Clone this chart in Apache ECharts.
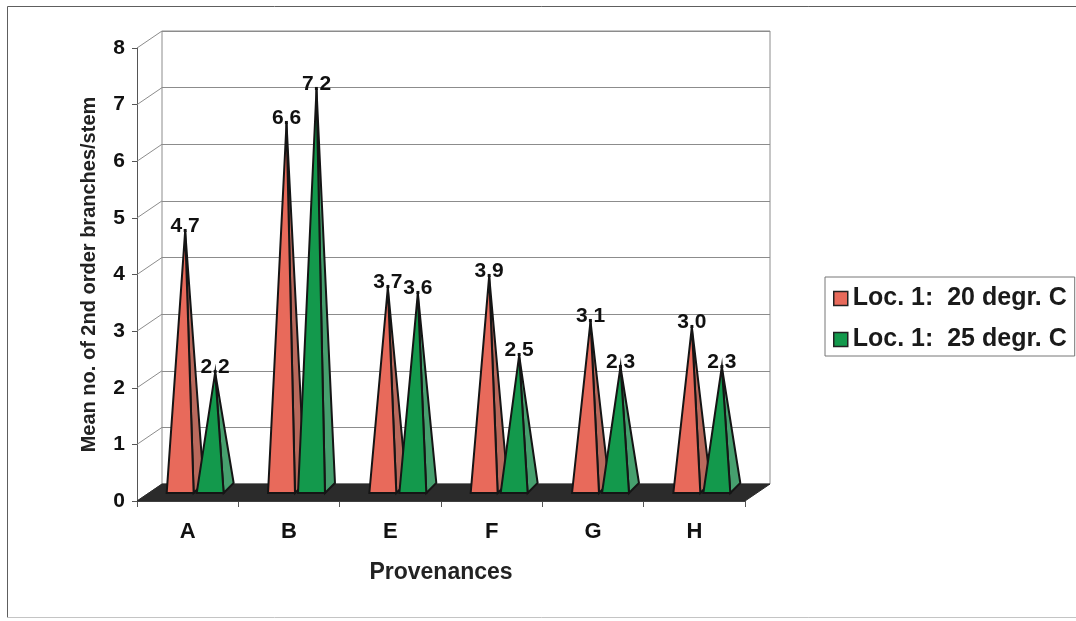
<!DOCTYPE html>
<html>
<head>
<meta charset="utf-8">
<title>Mean no. of 2nd order branches/stem by provenance</title>
<script src="https://cdn.jsdelivr.net/npm/echarts@6/dist/echarts.min.js"></script>
<style>
  html, body { margin: 0; padding: 0; background: #ffffff; }
  #chart { width: 1076px; height: 621px; }
</style>
</head>
<body>
<div id="chart"></div>
<script>
// Provenances on the category axis
const categories = ['A', 'B', 'E', 'F', 'G', 'H'];
// Mean number of 2nd order branches per stem
const loc20 = [4.7, 6.6, 3.7, 3.9, 3.1, 3.0];
const loc25 = [2.2, 7.2, 3.6, 2.5, 2.3, 2.3];
const seriesNames = ['Loc. 1:  20 degr. C', 'Loc. 1:  25 degr. C'];
// Value-axis ticks (used for the side-wall lines)
const yTicks = [0, 1, 2, 3, 4, 5, 6, 7, 8];

const FONT = "'Liberation Sans', Arial, sans-serif";
const DEPTH = [25, -17];           // 3D depth offset of the back wall
const WALL = '#8c8c8c';

const palette = [
  { front: '#e86a5b', side: '#b9695c' },
  { front: '#13994c', side: '#46a06e' }
];

const chart = echarts.init(document.getElementById('chart'), null, { renderer: 'canvas' });

// Side wall: slanted lines joining each front tick to the back wall
function renderSideWall(params, api) {
  const p = api.coord([0, api.value(1)]);
  const x0 = params.coordSys.x;
  return {
    type: 'line',
    shape: { x1: x0, y1: p[1], x2: x0 + DEPTH[0], y2: p[1] + DEPTH[1] },
    style: { stroke: WALL, lineWidth: 1 }
  };
}

// Dark floor slab under the pyramids
function renderFloor(params, api) {
  const cs = params.coordSys;
  const y0 = api.coord([0, 0])[1];
  return {
    type: 'polygon',
    shape: {
      points: [
        [cs.x, y0],
        [cs.x + cs.width, y0],
        [cs.x + cs.width + DEPTH[0], y0 + DEPTH[1]],
        [cs.x + DEPTH[0], y0 + DEPTH[1]]
      ]
    },
    style: { fill: '#2b2b2b', stroke: '#2b2b2b', lineWidth: 1 }
  };
}

// Pyramid with a front face, a visible right face and a value label at its tip
function makePyramidRenderer(sIdx) {
  const col = palette[sIdx];
  return function (params, api) {
    const i = api.value(0);
    const v = api.value(1);
    const base = api.coord([i, 0]);
    const top = api.coord([i, v]);
    const band = api.size([1, 0])[0];
    const w = band * 0.266;
    const xl = base[0] + (sIdx === 0 ? -0.207 : 0.089) * band;
    const xr = xl + w;
    const yb = base[1] - 8;
    const apex = [(xl + xr) / 2 + 5, top[1] - 4];
    const backR = [xr + 10, base[1] - 18];
    const edge = { stroke: '#151515', lineWidth: 2, lineJoin: 'miter' };
    return {
      type: 'group',
      children: [
        {
          type: 'text',
          style: {
            text: v.toFixed(1),
            x: apex[0], y: apex[1] - 5,
            align: 'center', verticalAlign: 'middle',
            font: 'bold 21px ' + FONT,
            fill: '#111'
          }
        },
        {
          type: 'polygon',
          shape: { points: [[xr, yb], backR, apex] },
          style: Object.assign({ fill: col.side }, edge)
        },
        {
          type: 'polygon',
          shape: { points: [[xl, yb], [xr, yb], apex] },
          style: Object.assign({ fill: col.front }, edge)
        }
      ]
    };
  };
}

const option = {
  animation: false,
  backgroundColor: '#ffffff',
  textStyle: { fontFamily: FONT },
  graphic: [
    {
      // page frame: darker top and left edges, faint bottom edge
      type: 'polyline',
      shape: { points: [[7.5, 617.5], [7.5, 6.5], [1076, 6.5]] },
      style: { fill: 'none', stroke: '#5e5e5e', lineWidth: 1 },
      silent: true,
      z: -10
    },
    {
      type: 'line',
      shape: { x1: 7.5, y1: 617.5, x2: 1076, y2: 617.5 },
      style: { stroke: '#c4c4c4', lineWidth: 1 },
      silent: true,
      z: -10
    }
  ],
  legend: {
    orient: 'vertical',
    left: 825,
    top: 277,
    padding: [9, 8, 4, 8],
    itemGap: 16,
    itemWidth: 14,
    itemHeight: 14,
    backgroundColor: '#ffffff',
    borderColor: '#777777',
    borderWidth: 1,
    textStyle: { fontFamily: FONT, fontSize: 25, fontWeight: 'bold', color: '#1a1a1a', lineHeight: 24 },
    data: [
      { name: seriesNames[0], icon: 'rect', itemStyle: { color: palette[0].front, borderColor: '#222', borderWidth: 1.5 } },
      { name: seriesNames[1], icon: 'rect', itemStyle: { color: palette[1].front, borderColor: '#222', borderWidth: 1.5 } }
    ]
  },
  grid: [
    { left: 137, top: 48, width: 608, height: 453, show: false },
    { left: 137 + DEPTH[0], top: 48 + DEPTH[1], width: 608, height: 453,
      show: true, borderColor: WALL, borderWidth: 1, backgroundColor: 'transparent' }
  ],
  xAxis: [
    {
      gridIndex: 0,
      type: 'category',
      data: categories,
      axisLine: { lineStyle: { color: '#555', width: 1 } },
      axisTick: { show: true, length: 6, lineStyle: { color: '#555' } },
      axisLabel: { margin: 20, fontSize: 22, fontWeight: 'bold', color: '#111', fontFamily: FONT },
      name: 'Provenances',
      nameLocation: 'middle',
      nameGap: 60,
      nameTextStyle: { fontSize: 23, fontWeight: 'bold', color: '#222', fontFamily: FONT }
    },
    {
      gridIndex: 1,
      type: 'category',
      data: categories,
      show: false
    }
  ],
  yAxis: [
    {
      gridIndex: 0,
      type: 'value',
      min: 0, max: 8, interval: 1,
      axisLine: { show: true, lineStyle: { color: '#555', width: 1 } },
      axisTick: { show: true, length: 5, lineStyle: { color: '#555' } },
      axisLabel: { margin: 12, fontSize: 21, fontWeight: 'bold', color: '#111', fontFamily: FONT },
      splitLine: { show: false },
      name: 'Mean no. of 2nd order branches/stem',
      nameLocation: 'middle',
      nameGap: 38,
      nameTextStyle: { fontSize: 20, fontWeight: 'bold', color: '#222', fontFamily: FONT }
    },
    {
      gridIndex: 1,
      type: 'value',
      min: 0, max: 8, interval: 1,
      axisLine: { show: false },
      axisTick: { show: false },
      axisLabel: { show: false },
      splitLine: { show: true, lineStyle: { color: WALL, width: 1 } }
    }
  ],
  series: [
    {
      type: 'custom',
      name: 'side wall',
      xAxisIndex: 0, yAxisIndex: 0,
      silent: true, z: 1,
      renderItem: renderSideWall,
      data: yTicks.map(v => [0, v])
    },
    {
      type: 'custom',
      name: 'floor',
      xAxisIndex: 0, yAxisIndex: 0,
      silent: true, z: 2,
      renderItem: renderFloor,
      data: [[0, 0]]
    },
    {
      type: 'custom',
      name: seriesNames[0],
      xAxisIndex: 0, yAxisIndex: 0,
      z: 3,
      itemStyle: { color: palette[0].front },
      renderItem: makePyramidRenderer(0),
      data: loc20.map((v, i) => [i, v])
    },
    {
      type: 'custom',
      name: seriesNames[1],
      xAxisIndex: 0, yAxisIndex: 0,
      z: 3,
      itemStyle: { color: palette[1].front },
      renderItem: makePyramidRenderer(1),
      data: loc25.map((v, i) => [i, v])
    }
  ]
};

chart.setOption(option);
</script>
</body>
</html>
